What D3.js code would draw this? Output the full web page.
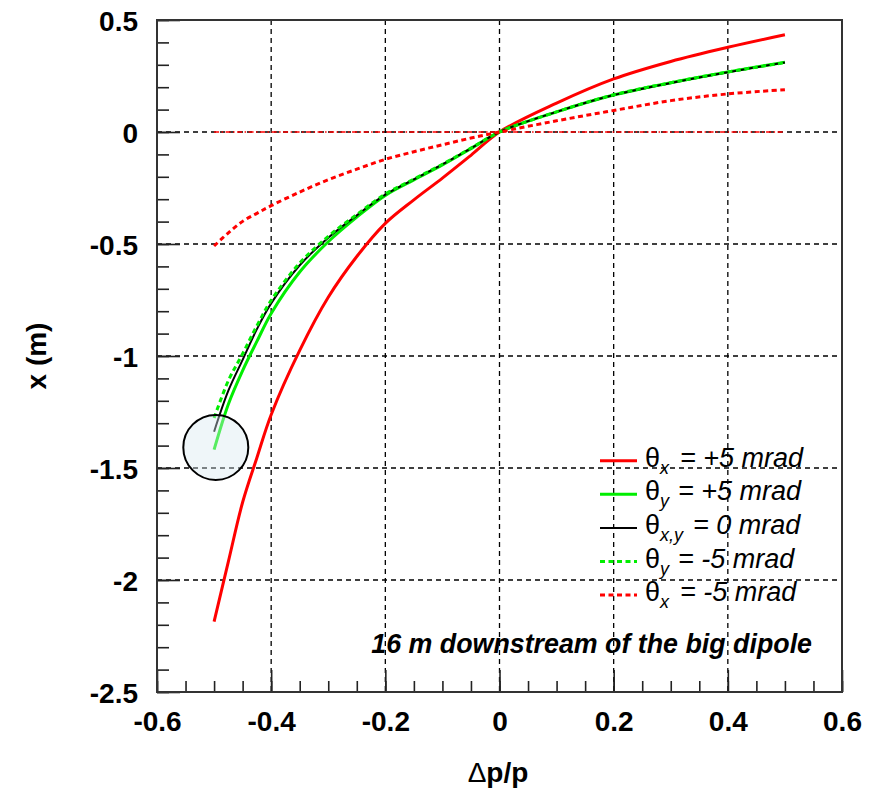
<!DOCTYPE html>
<html>
<head>
<meta charset="utf-8">
<script src="https://cdn.jsdelivr.net/npm/d3@7"></script>
<style>
  html, body { margin: 0; padding: 0; background: #fff; }
  svg { display: block; font-family: "Liberation Sans", Arial, Helvetica, sans-serif; }
</style>
</head>
<body>
<svg id="chart" width="874" height="799"></svg>
<script>
// Momentum deviation samples (Δp/p)
const dp = [-0.5, -0.475, -0.45, -0.425, -0.4, -0.35, -0.3, -0.25, -0.2, -0.15, -0.1, -0.05, 0, 0.1, 0.2, 0.3, 0.4, 0.5];

// Horizontal position x (m) for each entry angle
const thetaXPlus5  = [-2.186, -1.918, -1.653, -1.454, -1.262, -0.975, -0.738, -0.556, -0.408, -0.303, -0.206, -0.104, 0, 0.129, 0.237, 0.315, 0.378, 0.434];
const thetaYPlus5  = [-1.418, -1.215, -1.065, -0.935, -0.810, -0.625, -0.490, -0.380, -0.283, -0.214, -0.147, -0.074, 0, 0.090, 0.165, 0.220, 0.268, 0.311];
const thetaZero    = [-1.338, -1.155, -1.017, -0.880, -0.765, -0.595, -0.472, -0.372, -0.280, -0.212, -0.145, -0.073, 0, 0.090, 0.165, 0.219, 0.267, 0.310];
const thetaYMinus5 = [-1.277, -1.110, -0.990, -0.865, -0.752, -0.585, -0.466, -0.368, -0.277, -0.210, -0.144, -0.072, 0, 0.090, 0.166, 0.220, 0.268, 0.310];
const thetaXMinus5 = [-0.509, -0.450, -0.399, -0.363, -0.329, -0.268, -0.213, -0.166, -0.122, -0.088, -0.057, -0.027, 0, 0.050, 0.096, 0.140, 0.170, 0.189];

// Reference line at x = 0
const refDp = [-0.5, 0.5];
const refX  = [0, 0];

// Axis ticks and labels
const xTicks = [-0.6, -0.4, -0.2, 0, 0.2, 0.4, 0.6];
const xTickLabels = ["-0.6", "-0.4", "-0.2", "0", "0.2", "0.4", "0.6"];
const yTicks = [0.5, 0, -0.5, -1, -1.5, -2, -2.5];
const yTickLabels = ["0.5", "0", "-0.5", "-1", "-1.5", "-2", "-2.5"];

// Highlighted region
const markDp = [-0.497];
const markX = [-1.408];

// Legend entries
const legendSub  = ["x", "y", "x,y", "y", "x"];
const legendText = ["= +5 mrad", "= +5 mrad", "= 0 mrad", "= -5 mrad", "= -5 mrad"];

const svg = d3.select("#chart");
const L = 157, R = 842, T = 20, B = 692;

const x = d3.scaleLinear().domain([-0.6, 0.6]).range([L, R]);
const y = d3.scaleLinear().domain([-2.5, 0.5]).range([B, T]);

// Grid
const grid = svg.append("g").attr("stroke", "#000").attr("stroke-width", 1.3).attr("stroke-dasharray", "5,4");
grid.selectAll("line.gx").data(xTicks.filter(v => v > -0.6 && v < 0.6)).join("line")
  .attr("x1", d => x(d)).attr("x2", d => x(d)).attr("y1", T).attr("y2", B);
grid.selectAll("line.gy").data(yTicks.filter(v => v > -2.5 && v < 0.5)).join("line")
  .attr("y1", d => y(d)).attr("y2", d => y(d)).attr("x1", L).attr("x2", R);

// Axes (ticks pointing inward)
const xMinor = d3.range(-0.6, 0.6001, 0.05).map(v => +v.toFixed(2));
const yMinor = d3.range(-2.5, 0.5001, 0.1).map(v => +v.toFixed(2));

function styleAxis(g) {
  g.select(".domain").remove();
  g.selectAll(".tick line").attr("stroke", "#222").attr("stroke-width", 1.6);
}

svg.append("g").attr("transform", `translate(0,${B})`)
  .call(d3.axisBottom(x).tickValues(xMinor).tickSize(-11).tickFormat(""))
  .call(styleAxis);
svg.append("g").attr("transform", `translate(0,${B})`)
  .call(d3.axisBottom(x).tickValues(xTicks).tickSize(-22).tickFormat((d, i) => xTickLabels[i]))
  .call(styleAxis)
  .call(g => g.selectAll(".tick text")
    .attr("y", 39).attr("dy", 0)
    .attr("font-size", 28).attr("font-weight", "bold")
    .attr("fill", "#000").attr("font-family", "Liberation Sans, Arial, sans-serif"));

svg.append("g").attr("transform", `translate(${L},0)`)
  .call(d3.axisLeft(y).tickValues(yMinor).tickSize(-12).tickFormat(""))
  .call(styleAxis);
svg.append("g").attr("transform", `translate(${L},0)`)
  .call(d3.axisLeft(y).tickValues(yTicks).tickSize(-23).tickFormat((d, i) => yTickLabels[i]))
  .call(styleAxis)
  .call(g => g.selectAll(".tick text")
    .attr("x", -19).attr("dy", "0.36em")
    .attr("font-size", 28).attr("font-weight", "bold")
    .attr("fill", "#000").attr("font-family", "Liberation Sans, Arial, sans-serif"));

// Frame
svg.append("rect").attr("x", L).attr("y", T).attr("width", R - L).attr("height", B - T)
  .attr("fill", "none").attr("stroke", "#333").attr("stroke-width", 2);

// Curves
const line = d3.line().x(d => x(d[0])).y(d => y(d[1])).curve(d3.curveCatmullRom.alpha(0.5));
const pts = arr => dp.map((d, i) => [d, arr[i]]);

svg.append("path").datum(refDp.map((d, i) => [d, refX[i]]))
  .attr("d", d3.line().x(d => x(d[0])).y(d => y(d[1])))
  .attr("fill", "none").attr("stroke", "#ff0000").attr("stroke-width", 1.6)
  .attr("stroke-dasharray", "5,2.5,1.5,2.5");

const series = [
  { v: thetaXPlus5,  color: "#ff0000", w: 3,   dash: null },
  { v: thetaYPlus5,  color: "#00ee00", w: 3,   dash: null },
  { v: thetaZero,    color: "#000000", w: 2,   dash: null },
  { v: thetaYMinus5, color: "#00ee00", w: 3,   dash: "5,3.5" },
  { v: thetaXMinus5, color: "#ff0000", w: 3,   dash: "5,3.5" }
];

series.forEach(s => {
  svg.append("path").datum(pts(s.v))
    .attr("d", line)
    .attr("fill", "none")
    .attr("stroke", s.color)
    .attr("stroke-width", s.w)
    .attr("stroke-dasharray", s.dash);
});

// Highlight circle
svg.selectAll("circle.mark").data(markDp).join("circle")
  .attr("cx", d => x(d)).attr("cy", (d, i) => y(markX[i])).attr("r", 32.5)
  .attr("fill", "#d6e8ef").attr("fill-opacity", 0.4)
  .attr("stroke", "#000").attr("stroke-width", 2);

// Legend
const legend = svg.append("g");
const lgY0 = 460.7, lgDy = 33.6;
const eqX = [680, 678, 693, 678, 680];
series.forEach((s, i) => {
  const ly = lgY0 + i * lgDy;
  legend.append("line")
    .attr("x1", 600).attr("x2", 637).attr("y1", ly).attr("y2", ly)
    .attr("stroke", s.color).attr("stroke-width", s.w)
    .attr("stroke-dasharray", s.dash);
  const t = legend.append("text").attr("x", 645).attr("y", ly + 6).attr("font-size", 27);
  t.append("tspan").text("θ");
  t.append("tspan").attr("dy", 7).attr("font-size", 18).attr("font-style", "italic").text(legendSub[i]);
  legend.append("text").attr("x", eqX[i]).attr("y", ly + 6)
    .attr("font-size", 27).attr("font-style", "italic").text(legendText[i]);
});

// Annotation
svg.append("text").attr("x", 812).attr("y", 653).attr("text-anchor", "end")
  .attr("font-size", 26.8).attr("font-weight", "bold").attr("font-style", "italic")
  .text("16 m downstream of the big dipole");

// Axis titles
svg.append("text").attr("x", 498).attr("y", 782).attr("text-anchor", "middle")
  .attr("font-size", 28).attr("font-weight", "bold")
  .call(t => {
    t.append("tspan").attr("font-weight", "normal").text("Δ");
    t.append("tspan").text("p/p");
  });

svg.append("text").attr("transform", "translate(46,356) rotate(-90)")
  .attr("text-anchor", "middle").attr("font-size", 28).attr("font-weight", "bold")
  .text("x (m)");
</script>
</body>
</html>
